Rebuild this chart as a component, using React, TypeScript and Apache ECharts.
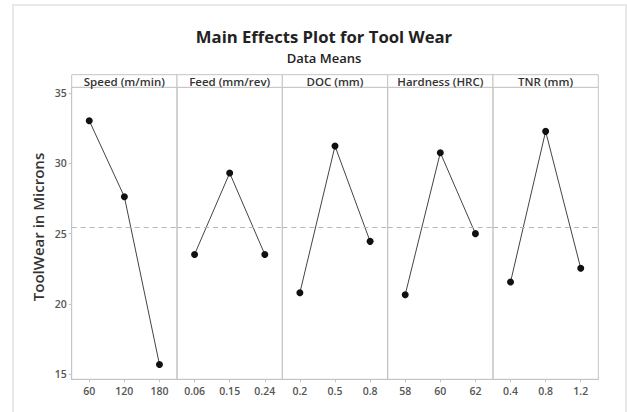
import React, { useEffect, useRef } from "react";
import * as echarts from "echarts";

const factors = ["Speed (m/min)", "Feed (mm/rev)", "DOC (mm)", "Hardness (HRC)", "TNR (mm)"];
const speedLevels = ["60", "120", "180"];
const feedLevels = ["0.06", "0.15", "0.24"];
const docLevels = ["0.2", "0.5", "0.8"];
const hardnessLevels = ["58", "60", "62"];
const tnrLevels = ["0.4", "0.8", "1.2"];
const speedMeans = [33.05, 27.63, 15.68];
const feedMeans = [23.52, 29.32, 23.52];
const docMeans = [20.79, 31.24, 24.45];
const hardnessMeans = [20.65, 30.77, 25.0];
const tnrMeans = [21.55, 32.29, 22.53];
const grandMean = 25.45;
const yTicks = [15, 20, 25, 30, 35];

const levels = [speedLevels, feedLevels, docLevels, hardnessLevels, tnrLevels];
const means = [speedMeans, feedMeans, docMeans, hardnessMeans, tnrMeans];

const FONT = "'Open Sans', 'Noto Sans', sans-serif";

export default function App() {
  const ref = useRef<HTMLDivElement>(null);
  useEffect(() => {
    if (!ref.current) return;
    const chart = echarts.init(ref.current, null, { renderer: "svg" });
    const left0 = 71.7;
    const pw = 105.32;
    const top = 87.3;
    const h = 292;
    const hdrTop = 74.7;
    const grids = factors.map((_, i) => ({
      left: left0 + i * pw,
      top,
      width: pw,
      height: h,
      show: true,
      borderColor: "#c4c4c4",
      borderWidth: 1,
      backgroundColor: "transparent",
    }));
    const xAxes = factors.map((_, i) => ({
      type: "category",
      gridIndex: i,
      data: levels[i],
      boundaryGap: true,
      axisLine: { show: true, lineStyle: { color: "#c4c4c4" } },
      axisTick: { show: true, alignWithLabel: true, length: 3, lineStyle: { color: "#c4c4c4" } },
      axisLabel: { color: "#555", fontSize: 10.5, fontFamily: FONT, fontWeight: 600, margin: 6 },
      splitLine: { show: false },
    }));
    const yAxes = factors.map((_, i) => ({
      type: "value",
      gridIndex: i,
      min: 14.62,
      max: 35.43,
      axisLine: { show: i === 0, lineStyle: { color: "#c4c4c4" } },
      axisTick: { show: i === 0, length: 3, customValues: yTicks, lineStyle: { color: "#c4c4c4" } },
      axisLabel: {
        show: i === 0,
        customValues: yTicks,
        color: "#555",
        fontSize: 10.5,
        fontFamily: FONT,
        fontWeight: 600,
        margin: 5,
      },
      splitLine: { show: false },
    }));
    const series = factors.map((_, i) => ({
      type: "line",
      xAxisIndex: i,
      yAxisIndex: i,
      data: means[i],
      symbol: "circle",
      symbolSize: 7,
      itemStyle: { color: "#111" },
      lineStyle: { color: "#444", width: 1 },
      markLine: {
        silent: true,
        symbol: "none",
        label: { show: false },
        lineStyle: { color: "#b8b8b8", type: [5, 4], width: 1 },
        data: [{ yAxis: grandMean }],
      },
    }));
    const graphic: any[] = [
      {
        type: "rect",
        shape: { x: 13, y: 5, width: 613, height: 420 },
        style: { fill: "none", stroke: "#e8e8e8", lineWidth: 2 },
        silent: true,
      },
      {
        type: "text",
        x: 38,
        y: 227,
        rotation: Math.PI / 2,
        style: {
          text: "ToolWear in Microns",
          fill: "#333",
          font: `600 15px ${FONT}`,
          textAlign: "center",
          textVerticalAlign: "middle",
        },
        silent: true,
      },
    ];
    factors.forEach((f, i) => {
      graphic.push({
        type: "rect",
        shape: { x: left0 + i * pw, y: hdrTop, width: pw, height: top - hdrTop },
        style: { fill: "#fff", stroke: "#c4c4c4", lineWidth: 1 },
        silent: true,
      });
      graphic.push({
        type: "text",
        x: left0 + i * pw + pw / 2,
        y: (hdrTop + top) / 2 + 0.5,
        style: {
          text: f,
          fill: "#333",
          font: `600 11.5px ${FONT}`,
          textAlign: "center",
          textVerticalAlign: "middle",
        },
        silent: true,
      });
    });
    chart.setOption({
      animation: false,
      backgroundColor: "#fff",
      title: [
        {
          text: "Main Effects Plot for Tool Wear",
          left: 319,
          top: 23,
          textAlign: "center",
          textStyle: { fontSize: 16.7, fontWeight: "bold", color: "#222", fontFamily: FONT },
        },
        {
          text: "Data Means",
          left: 319,
          top: 46,
          textAlign: "center",
          textStyle: { fontSize: 13, fontWeight: 600, color: "#222", fontFamily: FONT },
        },
      ],
      grid: grids,
      xAxis: xAxes,
      yAxis: yAxes,
      series,
      graphic,
    });
    return () => chart.dispose();
  }, []);
  return (
    <div
      ref={ref}
      style={{ position: "fixed", left: 0, top: 0, width: 627, height: 412 }}
    />
  );
}
